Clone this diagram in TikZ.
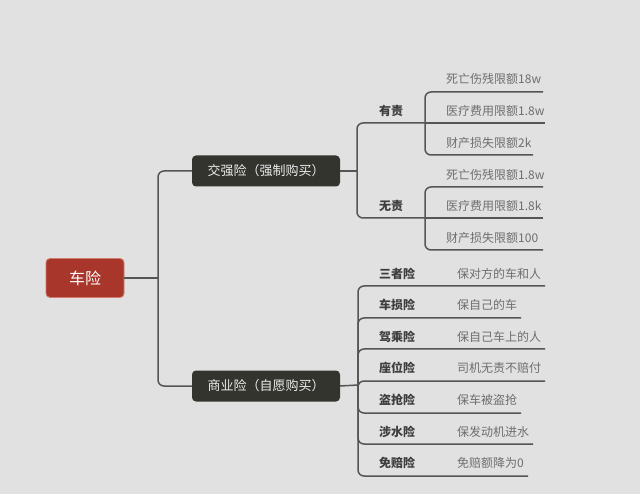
\documentclass[tikz,border=0pt]{standalone}
\usepackage{fontspec}
\setmainfont{Noto Sans CJK SC}
\begin{document}
\begin{tikzpicture}[x=1pt,y=-1pt,
  every node/.style={inner sep=0pt},
  rootbox/.style={fill=rootred,draw=rootedge,line width=0.8pt,rounded corners=4pt,minimum width=78pt,minimum height=39pt,text=white,font=\fontsize{16}{18}\selectfont},
  darkbox/.style={fill=boxdark,rounded corners=4pt,minimum width=148pt,minimum height=31pt,text=white!92!black,font=\fontsize{13}{15}\selectfont},
  lbl/.style={anchor=west,text=lblc,font=\bfseries\fontsize{12}{14}\selectfont},
  leaf/.style={anchor=west,text=leafc,font=\fontsize{12}{14}\selectfont},
  conn/.style={draw=linec,line width=1.5pt,rounded corners=6pt}]
\definecolor{bgc}{HTML}{E1E1E1}
\definecolor{rootred}{HTML}{A8362A}
\definecolor{rootedge}{HTML}{D07A6E}
\definecolor{boxdark}{HTML}{34342F}
\definecolor{linec}{HTML}{555555}
\definecolor{lblc}{HTML}{3E3E3E}
\definecolor{leafc}{HTML}{6E6E6E}
\fill[bgc] (0,0) rectangle (640,494);
\useasboundingbox (0,0) rectangle (640,494);

% main nodes
\node[rootbox] (root) at (85,278) {车险};
\node[darkbox] (jq) at (266,171) {交强险（强制购买）};
\node[darkbox] (sy) at (266,386) {商业险（自愿购买）};

\coordinate (r0) at (158,278);
\draw[conn] (root.east) -- (r0);
\draw[conn] (r0) |- (jq.west);
\draw[conn] (r0) |- (sy.west);

% 交强险 branch
\coordinate (j0) at (357,171);
\draw[conn] (jq.east) -- (j0);
\coordinate (yz) at (425,123);
\coordinate (wz) at (425,218);
\draw[conn] (j0) |- (yz);
\draw[conn] (j0) |- (wz);
\node[lbl] (youze) at (379,111) {有责};
\node[lbl] (wuze) at (379,206) {无责};

% 有责 leaves
\coordinate (ya) at (543,92);
\coordinate (yb) at (545,123);
\coordinate (yc) at (533,155);
\draw[conn] (yz) |- (ya);
\draw[conn] (yz) -- (yb);
\draw[conn] (yz) |- (yc);
\node[leaf] (ya1) at (446,79) {死亡伤残限额18w};
\node[leaf] (yb1) at (446,111) {医疗费用限额1.8w};
\node[leaf] (yc1) at (446,143) {财产损失限额2k};

% 无责 leaves
\coordinate (wa) at (543,187);
\coordinate (wb) at (543,218);
\coordinate (wc) at (543,250);
\draw[conn] (wz) |- (wa);
\draw[conn] (wz) -- (wb);
\draw[conn] (wz) |- (wc);
\node[leaf] (wa1) at (446,175) {死亡伤残限额1.8w};
\node[leaf] (wb1) at (446,206) {医疗费用限额1.8k};
\node[leaf] (wc1) at (446,238) {财产损失限额100};

% 商业险 branch
\coordinate (s0) at (358,385);
\draw[conn] (sy.east) -- (s0);
\foreach \n/\y/\e in {a/286/545,b/318/521,c/349/545,d/381/545,e/413/521,f/444/533,g/476/528}{
  \coordinate (s\n) at (\e,\y);
  \draw[conn] (s0) |- (s\n);
}
\node[lbl] (la) at (379,274) {三者险};
\node[lbl] (lb) at (379,305) {车损险};
\node[lbl] (lc) at (379,337) {驾乘险};
\node[lbl] (ld) at (379,368) {座位险};
\node[lbl] (le) at (379,400) {盗抢险};
\node[lbl] (lf) at (379,432) {涉水险};
\node[lbl] (lg) at (379,463) {免赔险};
\node[leaf] (da) at (457,274) {保对方的车和人};
\node[leaf] (db) at (457,305) {保自己的车};
\node[leaf] (dc) at (457,337) {保自己车上的人};
\node[leaf] (dd) at (457,368) {司机无责不赔付};
\node[leaf] (de) at (457,400) {保车被盗抢};
\node[leaf] (df) at (457,432) {保发动机进水};
\node[leaf] (dg) at (457,463) {免赔额降为0};
\end{tikzpicture}
\end{document}
